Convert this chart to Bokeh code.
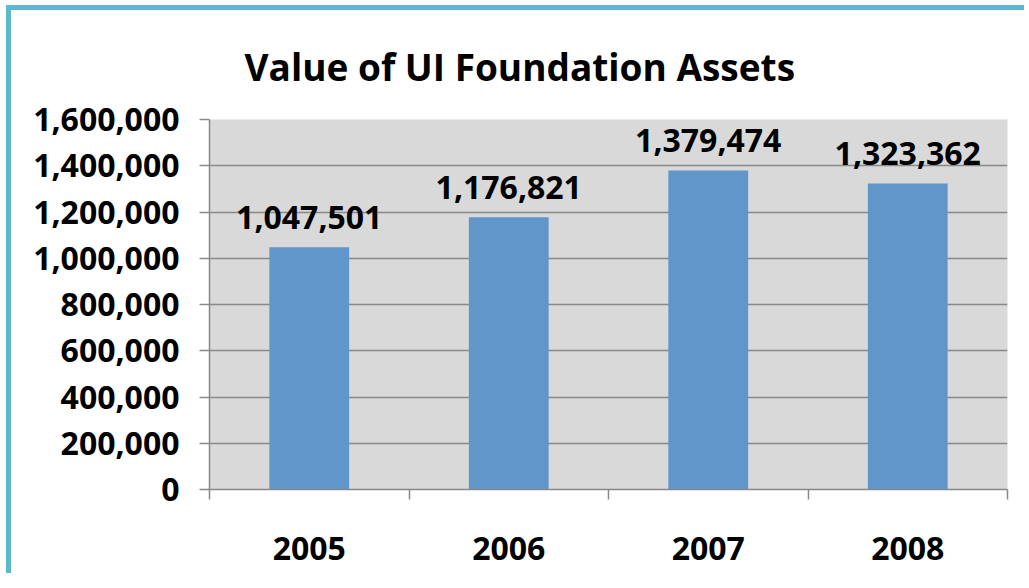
from bokeh.plotting import figure
from bokeh.models import (ColumnDataSource, Range1d, FixedTicker, NumeralTickFormatter,
                          LabelSet, Title)
from bokeh.core.properties import value
from bokeh.embed import file_html
from bokeh.resources import INLINE

# ---- data ----
years = ["2005", "2006", "2007", "2008"]
assets = [1047501, 1176821, 1379474, 1323362]
y_ticks = [0, 200000, 400000, 600000, 800000, 1000000, 1200000, 1400000, 1600000]
title_text = "Value of UI Foundation Assets"

FONT = "Open Sans"
BAR = "#6096C9"
GRID = "#898989"
BORDER = "#5BB8D0"

xs = [i + 0.5 for i in range(len(years))]
labels = ["{:,}".format(v) for v in assets]
src = ColumnDataSource(dict(x=xs, top=assets, label=labels))

p = figure(width=1018, height=568, output_backend="svg", toolbar_location=None,
           x_range=Range1d(0, len(years)), y_range=Range1d(0, y_ticks[-1]),
           min_border_left=198, min_border_right=22, min_border_top=107,
           min_border_bottom=89)
p.styles = {"border-left": f"5px solid {BORDER}", "border-top": f"5px solid {BORDER}",
            "margin-left": "6px", "margin-top": "5px"}

p.background_fill_color = "#D9D9D9"
p.border_fill_color = "white"
p.outline_line_color = None

t = Title(text=title_text, align="left", offset=35, standoff=56,
          text_font=FONT, text_font_size="37px", text_font_style="bold",
          text_color="black")
p.add_layout(t, "above")

p.vbar(x="x", top="top", width=0.4, source=src, fill_color=BAR, line_color=None)

p.add_layout(LabelSet(x="x", y="top", text="label", source=src, y_offset=18,
                      text_align="center", text_baseline="alphabetic",
                      text_font=value(FONT), text_font_size="32px",
                      text_font_style="bold", text_color="black"))

# y axis
p.yaxis.ticker = FixedTicker(ticks=y_ticks, minor_ticks=[])
p.yaxis.formatter = NumeralTickFormatter(format="0,0")
p.yaxis.major_tick_out = 10
p.yaxis.major_tick_in = 0
p.yaxis.minor_tick_line_color = None
p.yaxis.major_label_standoff = 20
p.yaxis.axis_line_color = GRID
p.yaxis.axis_line_width = 1.5
p.yaxis.major_tick_line_color = GRID
p.yaxis.major_tick_line_width = 1.5
p.yaxis.major_label_text_font = FONT
p.yaxis.major_label_text_font_size = "32px"
p.yaxis.major_label_text_font_style = "bold"
p.yaxis.major_label_text_color = "black"

# x axis: labels at centres, ticks at category boundaries
p.xaxis.ticker = FixedTicker(ticks=xs, minor_ticks=list(range(len(years) + 1)))
p.xaxis.major_label_overrides = {x: y for x, y in zip(xs, years)}
p.xaxis.major_tick_in = 0
p.xaxis.major_tick_out = 0
p.xaxis.minor_tick_in = 0
p.xaxis.minor_tick_out = 10
p.xaxis.minor_tick_line_color = GRID
p.xaxis.minor_tick_line_width = 1.5
p.xaxis.axis_line_color = GRID
p.xaxis.axis_line_width = 1.5
p.xaxis.major_label_standoff = 37
p.xaxis.major_label_text_font = FONT
p.xaxis.major_label_text_font_size = "32px"
p.xaxis.major_label_text_font_style = "bold"
p.xaxis.major_label_text_color = "black"

p.xgrid.grid_line_color = None
p.ygrid.grid_line_color = GRID
p.ygrid.grid_line_width = 1.5

open("out.html", "w").write(file_html(p, INLINE))
